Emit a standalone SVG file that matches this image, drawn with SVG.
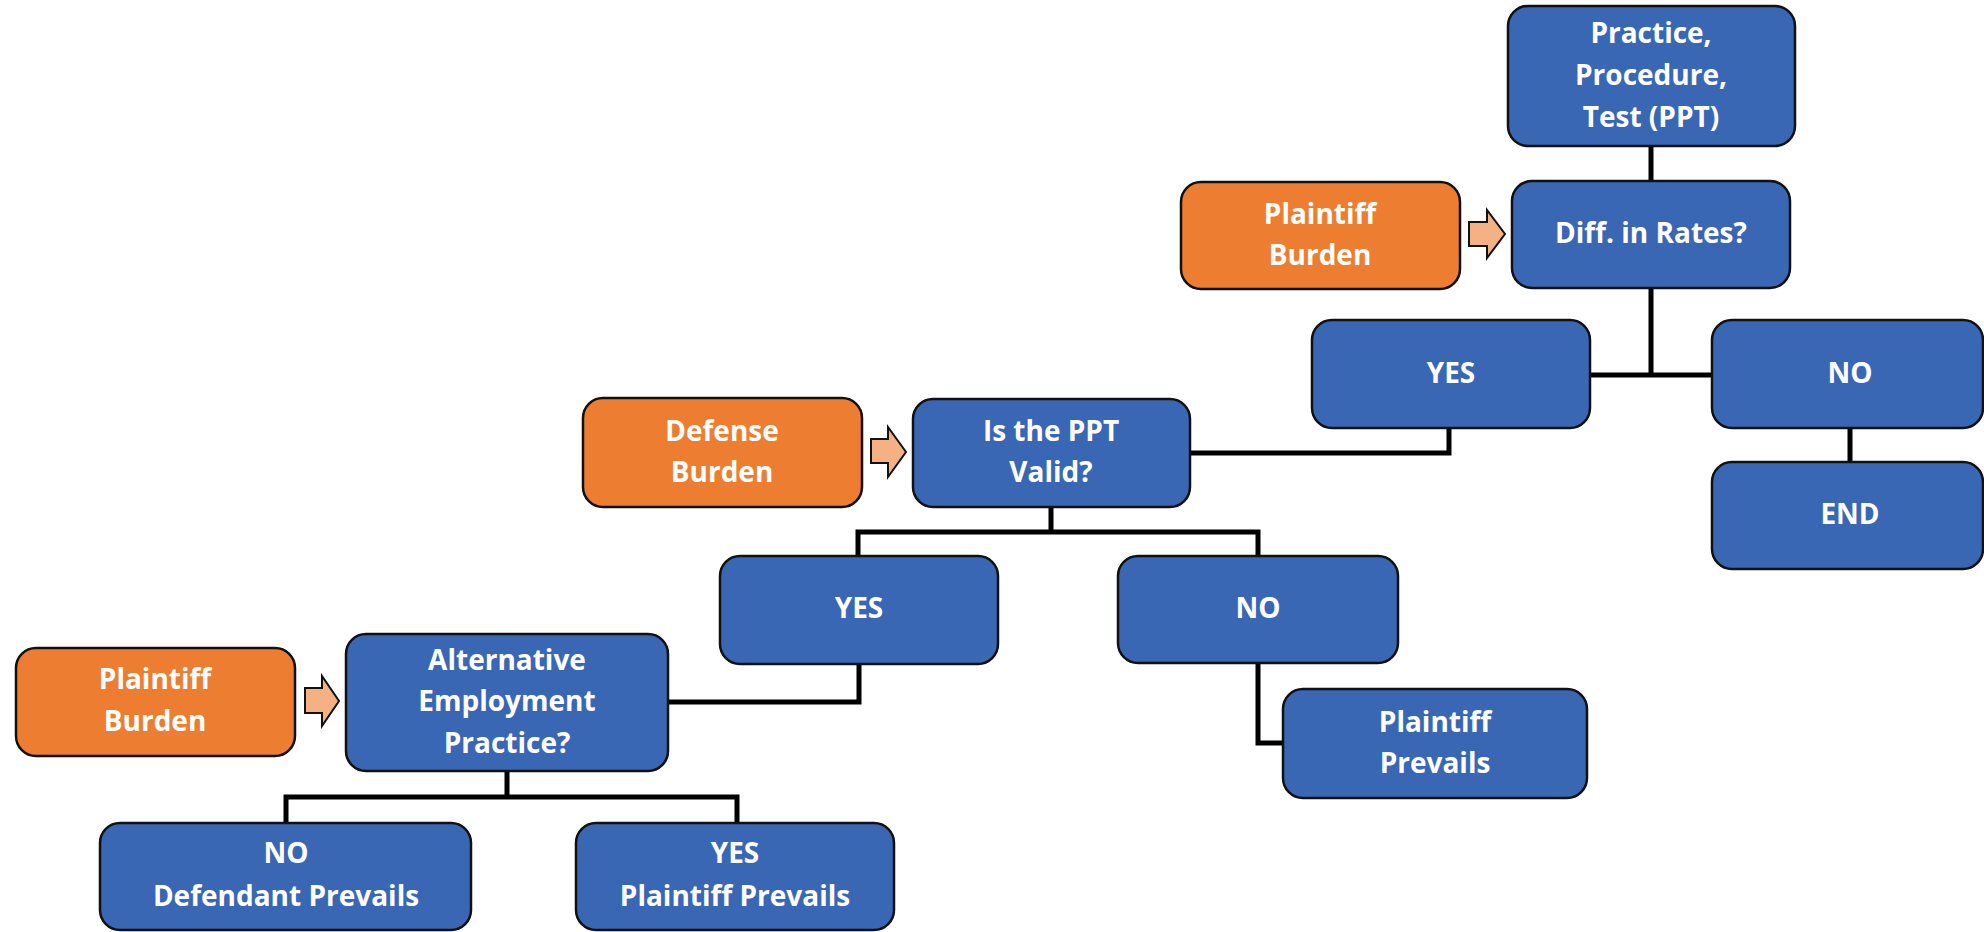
<svg xmlns="http://www.w3.org/2000/svg" width="1984" height="932" viewBox="0 0 1984 932">
<style>
.b{fill:#3A67B4;stroke:#111;stroke-width:2.5}
.o{fill:#ED7D31;stroke:#111;stroke-width:2.5}
.a{fill:#F4B183;stroke:#111;stroke-width:2}
.t{font-family:"Open Sans","Liberation Sans",sans-serif;font-weight:bold;font-size:28px;fill:#fff;text-anchor:middle}
.c{fill:none;stroke:#000;stroke-width:5;stroke-linejoin:miter;stroke-linecap:square}
</style>
<rect width="1984" height="932" fill="#fff"/>
<g id="connectors">
<path class="c" d="M1651 148V179"/>
<path class="c" d="M1651 290V375M1592 375H1710"/>
<path class="c" d="M1850 430V460"/>
<path class="c" d="M1449 430V453H1192"/>
<path class="c" d="M1051 509V532M858 532H1258M858 532V554M1258 532V554"/>
<path class="c" d="M1258 665V743H1281"/>
<path class="c" d="M859 666V702H670"/>
<path class="c" d="M507 773V797M286 797H737M286 797V821M737 797V821"/>
</g>
<g id="ppt"><rect class="b" x="1508" y="6" width="287" height="140" rx="20"/>
<text class="t" x="1651" y="43">Practice,</text><text class="t" x="1651" y="85">Procedure,</text><text class="t" x="1651" y="127">Test (PPT)</text></g>
<g id="diff"><rect class="b" x="1512" y="181" width="278" height="107" rx="20"/>
<text class="t" x="1651" y="243">Diff. in Rates?</text></g>
<g id="plaintiff-burden-1"><rect class="o" x="1181" y="182" width="279" height="107" rx="20"/>
<text class="t" x="1320" y="224">Plaintiff</text><text class="t" x="1320" y="265">Burden</text></g>
<g id="arrow-1"><polygon class="a" points="1469,222 1487,222 1487,210 1505,234 1487,258 1487,246 1469,246"/></g>
<g id="yes-1"><rect class="b" x="1312" y="320" width="278" height="108" rx="20"/>
<text class="t" x="1451" y="383">YES</text></g>
<g id="no-1"><rect class="b" x="1712" y="320" width="271" height="108" rx="20"/>
<text class="t" x="1850" y="383">NO</text></g>
<g id="end"><rect class="b" x="1712" y="462" width="271" height="107" rx="20"/>
<text class="t" x="1850" y="524">END</text></g>
<g id="defense-burden"><rect class="o" x="583" y="398" width="279" height="109" rx="20"/>
<text class="t" x="722" y="441">Defense</text><text class="t" x="722" y="482">Burden</text></g>
<g id="arrow-2"><polygon class="a" points="871,439 888,439 888,427 906,452 888,477 888,463 871,463"/></g>
<g id="ppt-valid"><rect class="b" x="913" y="399" width="277" height="108" rx="20"/>
<text class="t" x="1051" y="441">Is the PPT</text><text class="t" x="1051" y="482">Valid?</text></g>
<g id="yes-2"><rect class="b" x="720" y="556" width="278" height="108" rx="20"/>
<text class="t" x="859" y="618">YES</text></g>
<g id="no-2"><rect class="b" x="1118" y="556" width="280" height="107" rx="20"/>
<text class="t" x="1258" y="618">NO</text></g>
<g id="plaintiff-prevails"><rect class="b" x="1283" y="689" width="304" height="109" rx="20"/>
<text class="t" x="1435" y="732">Plaintiff</text><text class="t" x="1435" y="773">Prevails</text></g>
<g id="plaintiff-burden-2"><rect class="o" x="16" y="648" width="279" height="108" rx="20"/>
<text class="t" x="155" y="689">Plaintiff</text><text class="t" x="155" y="731">Burden</text></g>
<g id="arrow-3"><polygon class="a" points="305,688 322,688 322,676 339,701 322,726 322,713 305,713"/></g>
<g id="alternative"><rect class="b" x="346" y="634" width="322" height="137" rx="20"/>
<text class="t" x="507" y="670">Alternative</text><text class="t" x="507" y="711">Employment</text><text class="t" x="507" y="753">Practice?</text></g>
<g id="no-defendant"><rect class="b" x="100" y="823" width="371" height="107" rx="20"/>
<text class="t" x="286" y="863">NO</text><text class="t" x="286" y="906">Defendant Prevails</text></g>
<g id="yes-plaintiff"><rect class="b" x="576" y="823" width="318" height="107" rx="20"/>
<text class="t" x="735" y="863">YES</text><text class="t" x="735" y="906">Plaintiff Prevails</text></g>
</svg>
